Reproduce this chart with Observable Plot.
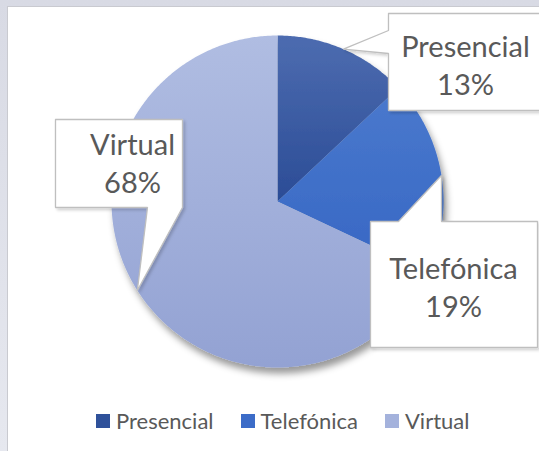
<!DOCTYPE html>
<html><head><meta charset="utf-8">
<script src="https://cdn.jsdelivr.net/npm/d3@7"></script>
<script src="https://cdn.jsdelivr.net/npm/@observablehq/plot@0.6"></script>
<style>
html,body{margin:0;padding:0;background:#e3e5ed;}
#wrap{position:relative;width:539px;height:451px;overflow:hidden;background:linear-gradient(#d8dae4,#e6e8ef);}
#panel{position:absolute;left:7px;top:6px;width:540px;height:450px;background:#fff;border-left:1px solid #c9cad0;border-top:1px solid #c9cad0;}
#chart{position:absolute;left:0;top:0;}
#legend{position:absolute;left:96px;top:404px;}
.lg-swatch{margin-right:27px !important;}
.lg-swatch svg{margin-right:6px !important;}
</style></head><body>
<div id="wrap"><div id="panel"></div><div id="chart"></div><div id="legend"></div></div>
<script>
// ---- data ----
const categories = ["Presencial", "Telefónica", "Virtual"];
const shares = [13, 19, 68];
const shareLabels = ["13%", "19%", "68%"];

// ---- styles ----
const topColors = ["#4d6cb0", "#4a79cd", "#b0bde2"];
const bottomColors = ["#2b4c96", "#3767c4", "#93a2d3"];
const legendColors = ["#2f519a", "#3c6cc8", "#a4b2dc"];
const textColor = "#595959";
const font = "Lato, 'Open Sans', sans-serif";

// ---- layout (pixels) ----
const W = 539, H = 451;
const CX = 277, CY = 201, R = 166;
const callouts = [
  {box: [388, 13, 560, 110], side: "left", base: [30, 53], tx: 465, ty: 63},
  {box: [370, 221, 537, 347], side: "top", base: [398, 441], tx: 453, ty: 285},
  {box: [55, 119, 182, 207], side: "bottom", base: [147, 182], tx: 132, ty: 161}
];
const px2x = p => (p - CX) / R;
const py2y = p => (CY - p) / R;

// ---- pie geometry from data ----
const arcs = d3.pie().sort(null).value(d => d)(shares);
const pieRows = [];
arcs.forEach((a, i) => {
  const cat = categories[i];
  pieRows.push({cat, x: 0, y: 0});
  const n = Math.max(2, Math.ceil((a.endAngle - a.startAngle) / 0.01));
  for (let k = 0; k <= n; k++) {
    const t = a.startAngle + (a.endAngle - a.startAngle) * k / n;
    pieRows.push({cat, x: Math.sin(t), y: Math.cos(t)});
  }
  pieRows.push({cat, x: 0, y: 0});
});

// ---- callouts: tip at mid-angle of each slice on the rim ----
const calloutRows = [];
const textRows = [];
arcs.forEach((a, i) => {
  const c = callouts[i];
  const mid = (a.startAngle + a.endAngle) / 2;
  const tip = [CX + R * Math.sin(mid), CY - R * Math.cos(mid)];
  const [x1, y1, x2, y2] = c.box;
  let pts;
  if (c.side === "left") {
    pts = [[x1, y1], [x2, y1], [x2, y2], [x1, y2], [x1, c.base[1]], tip, [x1, c.base[0]], [x1, y1]];
  } else if (c.side === "top") {
    pts = [[x1, y1], [c.base[0], y1], tip, [c.base[1], y1], [x2, y1], [x2, y2], [x1, y2], [x1, y1]];
  } else {
    pts = [[x1, y1], [x2, y1], [x2, y2], [c.base[1], y2], tip, [c.base[0], y2], [x1, y2], [x1, y1]];
  }
  pts.forEach(p => calloutRows.push({cat: categories[i], x: px2x(p[0]), y: py2y(p[1])}));
  textRows.push({x: px2x(c.tx), y: py2y(c.ty), text: `${categories[i]}\n${shareLabels[i]}`});
});

const pieMarks = categories.map((c, i) =>
  Plot.line(pieRows.filter(d => d.cat === c), {x: "x", y: "y", fill: `url(#grad${i})`, stroke: "none"}));
const calloutMarks = categories.map((c, i) =>
  Plot.line(calloutRows.filter(d => d.cat === c), {x: "x", y: "y", fill: "white", stroke: "#bfbfbf", strokeWidth: 1.3, strokeLinejoin: "miter"}));

const plot = Plot.plot({
  width: W, height: H,
  margin: 0,
  x: {domain: [-1, 1], range: [CX - R, CX + R], axis: null},
  y: {domain: [-1, 1], range: [CY + R, CY - R], axis: null},
  style: {background: "transparent", fontFamily: font},
  marks: [
    ...pieMarks,
    ...calloutMarks,
    Plot.text(textRows, {x: "x", y: "y", text: "text", fill: textColor, fontSize: 29, lineHeight: 1.31, lineAnchor: "middle", textAnchor: "middle"})
  ]
});

// gradients and shadows
const ns = "http://www.w3.org/2000/svg";
const el = (tag, attrs) => { const e = document.createElementNS(ns, tag); for (const k in attrs) e.setAttribute(k, attrs[k]); return e; };
const defs = el("defs", {});
categories.forEach((c, i) => {
  const g = el("linearGradient", {id: `grad${i}`, x1: 0, y1: 0, x2: 0, y2: 1});
  g.appendChild(el("stop", {offset: 0, "stop-color": topColors[i]}));
  g.appendChild(el("stop", {offset: 1, "stop-color": bottomColors[i]}));
  defs.appendChild(g);
});
const f1 = el("filter", {id: "shadowPie", x: "-20%", y: "-20%", width: "140%", height: "140%"});
f1.appendChild(el("feDropShadow", {dx: 3, dy: 6, stdDeviation: 3.5, "flood-color": "#000", "flood-opacity": 0.4}));
const f2 = el("filter", {id: "shadowBox", x: "-20%", y: "-20%", width: "140%", height: "140%"});
f2.appendChild(el("feDropShadow", {dx: 2, dy: 2, stdDeviation: 1.5, "flood-color": "#000", "flood-opacity": 0.18}));
defs.appendChild(f1); defs.appendChild(f2);
plot.insertBefore(defs, plot.firstChild);
const lineGroups = plot.querySelectorAll('g[aria-label="line"]');
const pieWrap = el("g", {filter: "url(#shadowPie)"});
plot.insertBefore(pieWrap, lineGroups[0]);
for (let i = 0; i < 3; i++) pieWrap.appendChild(lineGroups[i]);
for (let i = 3; i < lineGroups.length; i++) lineGroups[i].setAttribute("filter", "url(#shadowBox)");
document.getElementById("chart").appendChild(plot);

const legend = Plot.legend({
  color: {type: "ordinal", domain: categories, range: legendColors},
  legend: "swatches",
  swatchSize: 14,
  className: "lg",
  style: {fontSize: "22px", fontFamily: font, color: textColor}
});
document.getElementById("legend").appendChild(legend);
</script>
</body></html>
